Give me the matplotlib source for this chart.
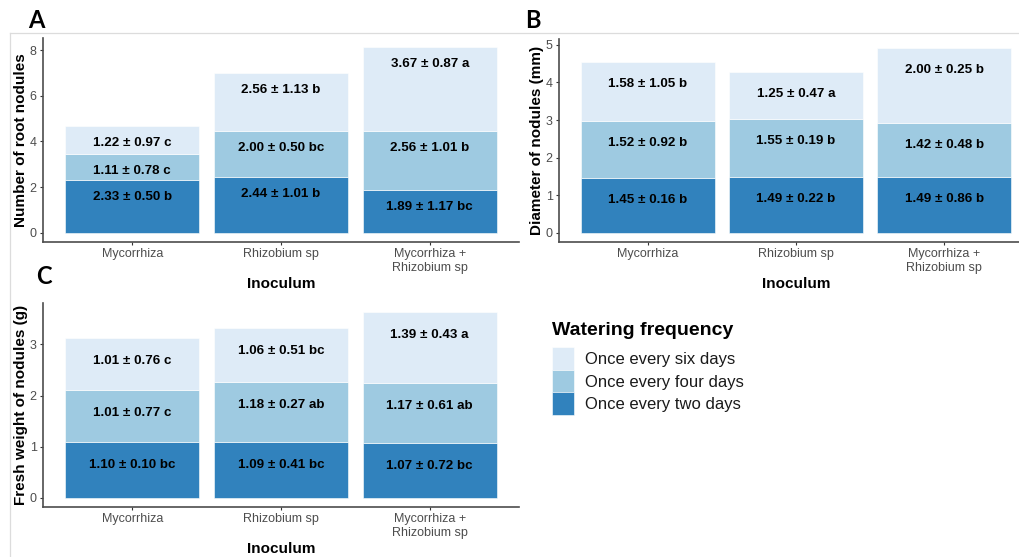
import matplotlib

matplotlib.use("Agg")
import matplotlib.pyplot as plt
from matplotlib.lines import Line2D
from matplotlib.patches import Patch

plt.rcParams["font.family"] = ["Liberation Sans", "DejaVu Sans"]

# Inoculum treatments on the x axis
categories = ["Mycorrhiza", "Rhizobium sp", "Mycorrhiza +\nRhizobium sp"]
watering = ["Once every two days", "Once every four days", "Once every six days"]
fill_colors = ["#3182BD", "#9ECAE1", "#DEEBF7"]

# Panel A: number of root nodules (mean, sd, letter) per watering level
nodules_two_mean = [2.33, 2.44, 1.89]
nodules_two_sd = [0.50, 1.01, 1.17]
nodules_two_letter = ["b", "b", "bc"]
nodules_four_mean = [1.11, 2.00, 2.56]
nodules_four_sd = [0.78, 0.50, 1.01]
nodules_four_letter = ["c", "bc", "b"]
nodules_six_mean = [1.22, 2.56, 3.67]
nodules_six_sd = [0.97, 1.13, 0.87]
nodules_six_letter = ["c", "b", "a"]

# Panel B: diameter of nodules (mm)
diameter_two_mean = [1.45, 1.49, 1.49]
diameter_two_sd = [0.16, 0.22, 0.86]
diameter_two_letter = ["b", "b", "b"]
diameter_four_mean = [1.52, 1.55, 1.42]
diameter_four_sd = [0.92, 0.19, 0.48]
diameter_four_letter = ["b", "b", "b"]
diameter_six_mean = [1.58, 1.25, 2.00]
diameter_six_sd = [1.05, 0.47, 0.25]
diameter_six_letter = ["b", "a", "b"]

# Panel C: fresh weight of nodules (g)
weight_two_mean = [1.10, 1.09, 1.07]
weight_two_sd = [0.10, 0.41, 0.72]
weight_two_letter = ["bc", "bc", "bc"]
weight_four_mean = [1.01, 1.18, 1.17]
weight_four_sd = [0.77, 0.27, 0.61]
weight_four_letter = ["c", "ab", "ab"]
weight_six_mean = [1.01, 1.06, 1.39]
weight_six_sd = [0.76, 0.51, 0.43]
weight_six_letter = ["c", "bc", "a"]

W, H = 1020, 557


def px_rect(left, top, right, bottom):
    return [left / W, 1 - bottom / H, (right - left) / W, (bottom - top) / H]


def draw_panel(ax, layers, ylabel, yticks, label_drop):
    xs = list(range(1, len(categories) + 1))
    base = [0.0] * len(xs)
    for (means, sds, letters), color in zip(layers, fill_colors):
        ax.bar(xs, means, bottom=base, width=0.9, color=color,
               edgecolor="white", linewidth=0.4, zorder=2)
        tops = [b + m for b, m in zip(base, means)]
        for x, top, m, s, let in zip(xs, tops, means, sds, letters):
            ax.annotate(f"{m:.2f} \u00b1 {s:.2f} {let}", (x, top),
                        xytext=(0, -label_drop), textcoords="offset pixels",
                        ha="center", va="center", fontsize=9.6,
                        fontweight="bold", color="black", zorder=3)
        base = tops
    total = max(base)
    ax.set_xlim(0.4, len(xs) + 0.6)
    ax.set_ylim(-0.05 * total, 1.05 * total)
    ax.set_xticks(xs)
    ax.set_xticklabels(categories)
    ax.set_yticks(yticks)
    ax.set_ylabel(ylabel, fontsize=11, fontweight="bold", labelpad=1)
    ax.set_xlabel("Inoculum", fontsize=11, fontweight="bold", labelpad=2)
    for side in ("top", "right"):
        ax.spines[side].set_visible(False)
    for side in ("left", "bottom"):
        ax.spines[side].set_color("#4d4d4d")
        ax.spines[side].set_linewidth(1.2)
    ax.tick_params(colors="#333333", labelcolor="#4d4d4d", labelsize=9,
                   length=2.5, width=0.8, pad=2)


fig = plt.figure(figsize=(W / 100, H / 100), dpi=100)

ax_a = fig.add_axes(px_rect(43, 38, 519, 242))
ax_b = fig.add_axes(px_rect(559, 39, 1033, 242))
ax_c = fig.add_axes(px_rect(43, 303, 519, 507))

draw_panel(ax_a,
           [(nodules_two_mean, nodules_two_sd, nodules_two_letter),
            (nodules_four_mean, nodules_four_sd, nodules_four_letter),
            (nodules_six_mean, nodules_six_sd, nodules_six_letter)],
           "Number of root nodules", [0, 2, 4, 6, 8], 17)
draw_panel(ax_b,
           [(diameter_two_mean, diameter_two_sd, diameter_two_letter),
            (diameter_four_mean, diameter_four_sd, diameter_four_letter),
            (diameter_six_mean, diameter_six_sd, diameter_six_letter)],
           "Diameter of nodules (mm)", [0, 1, 2, 3, 4, 5], 22)
draw_panel(ax_c,
           [(weight_two_mean, weight_two_sd, weight_two_letter),
            (weight_four_mean, weight_four_sd, weight_four_letter),
            (weight_six_mean, weight_six_sd, weight_six_letter)],
           "Fresh weight of nodules (g)", [0, 1, 2, 3], 23)

# thin frame lines from the assembled figure
fig.add_artist(Line2D([10 / W, 1], [1 - 33 / H] * 2, color="#dcdcdc", lw=0.9))
fig.add_artist(Line2D([10 / W] * 2, [0, 1 - 33 / H], color="#dcdcdc", lw=0.9))

# panel letters
for letter, (px, py) in zip("ABC", [(36, 20), (533, 21), (44, 277)]):
    fig.text(px / W, 1 - py / H, letter, fontsize=17, fontweight="bold",
             family=["Lato", "DejaVu Sans"], ha="center", va="center")

handles = [Patch(facecolor=c, edgecolor="white", linewidth=0.4)
           for c in reversed(fill_colors)]
leg = fig.legend(handles, list(reversed(watering)), loc="upper left",
                 bbox_to_anchor=(552 / W, 1 - 322 / H), frameon=False,
                 fontsize=12, title="Watering frequency",
                 title_fontproperties={"weight": "bold", "size": 14},
                 handlelength=1.3, handleheight=1.7, handletextpad=0.7,
                 labelspacing=0.0, borderpad=0, borderaxespad=0,
                 alignment="left")
leg._legend_box.sep = 6
for t in leg.get_texts():
    t.set_color("#1a1a1a")

fig.savefig("out.png", dpi=100)
